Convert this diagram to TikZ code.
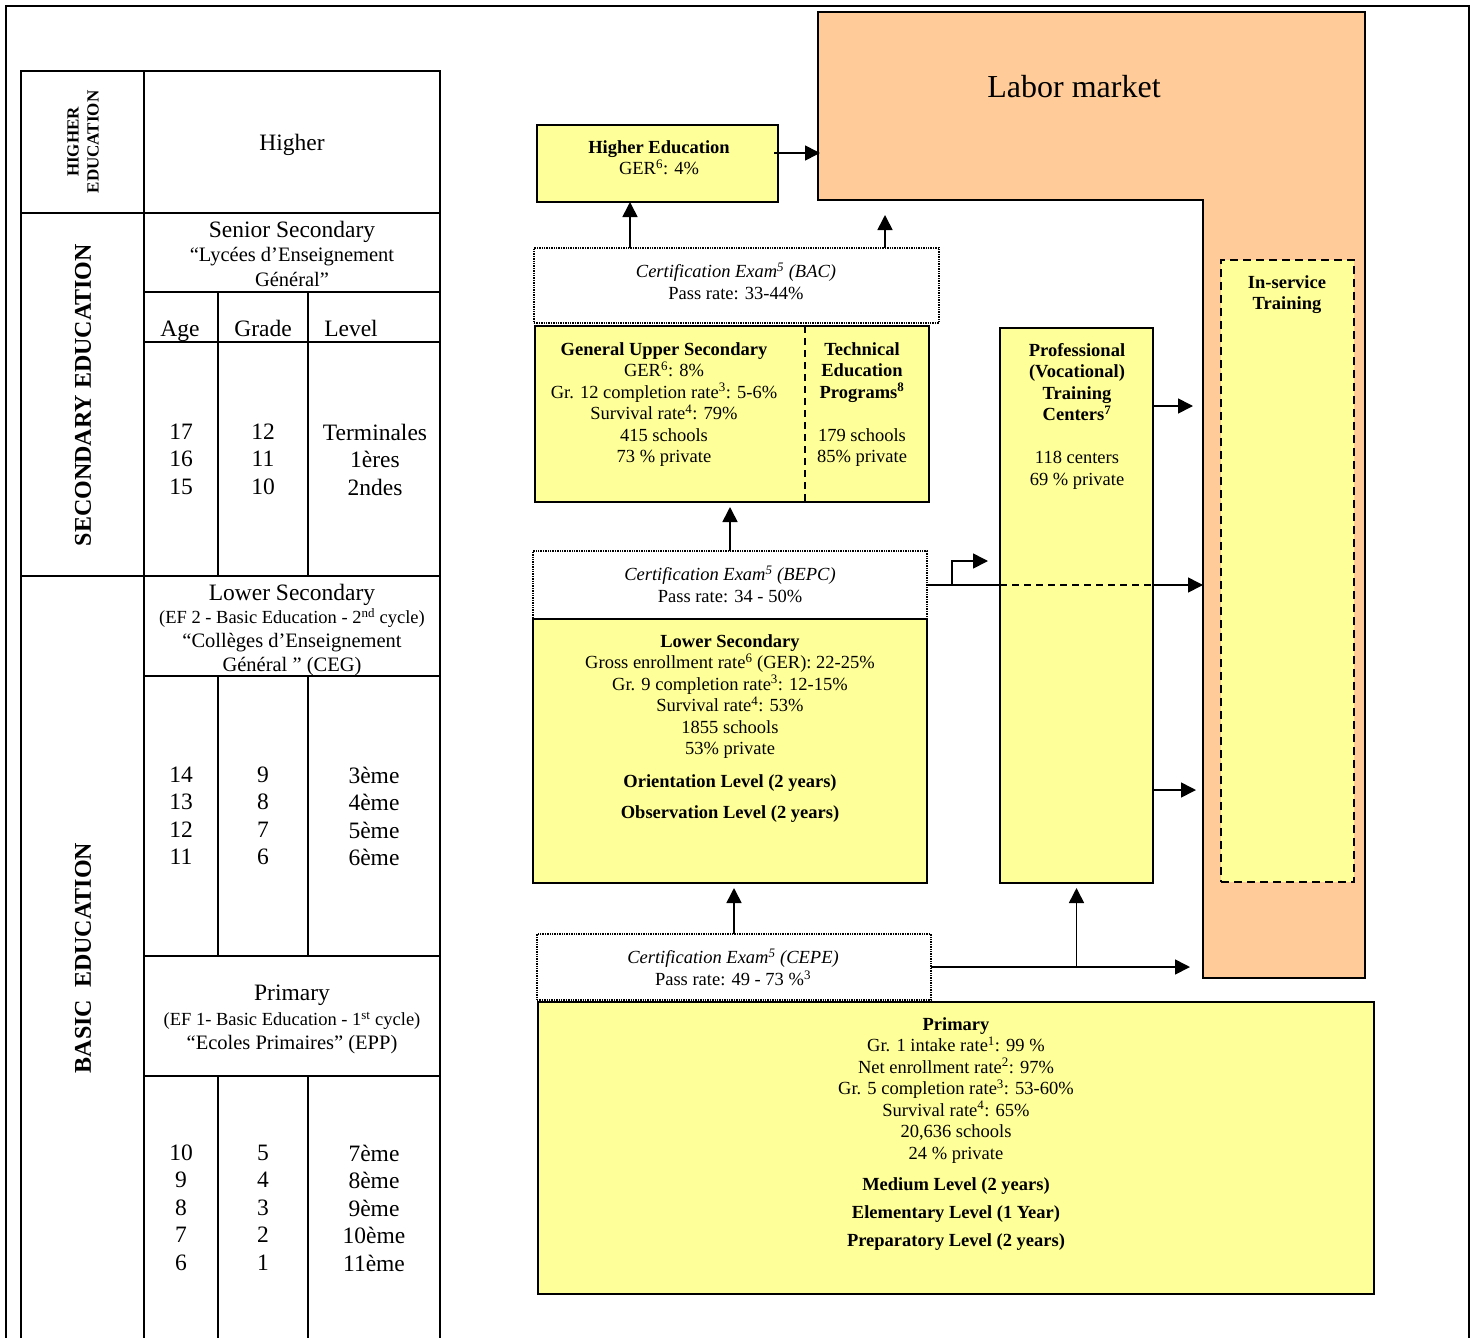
\documentclass[tikz,border=0pt]{standalone}
\usepackage{fontspec}
\setmainfont{Liberation Serif}
\usetikzlibrary{arrows.meta}

\definecolor{boxyellow}{HTML}{FFFF99}
\definecolor{labpeach}{HTML}{FFCC99}
\newcommand{\bodyfont}{\fontsize{18.5}{21.5}\selectfont}
\newcommand{\gridfont}{\fontsize{23.5}{27.5}\selectfont}
\newcommand{\subfont}{\fontsize{20.5}{24.5}\selectfont}

\begin{document}
\begin{tikzpicture}[x=1pt, y=-1pt,
    ybox/.style={draw, line width=1.6pt, fill=boxyellow, anchor=north west, inner sep=0pt, outer sep=0pt},
    exambox/.style={draw, line width=1.4pt, densely dotted, fill=white, anchor=north west, inner sep=0pt, outer sep=0pt},
    txt/.style={align=center, inner sep=0pt, font=\bodyfont, anchor=north},
    grid/.style={align=center, inner sep=0pt, font=\gridfont},
    vlabel/.style={rotate=90, align=center, inner sep=0pt, font=\bfseries},
    arr/.style={line width=1.6pt, -{Triangle[length=15pt,width=15pt]}},
    tbl/.style={line width=2pt}]
  \useasboundingbox (0,0) rectangle (1475,1338);
  \clip (0,0) rectangle (1475,1338);

  % outer frame
  \draw[line width=2pt] (6,1350) -- (6,6) -- (1469,6) -- (1469,1350);

  % left table
  \draw[tbl] (21,71) rectangle (440,1350);
  \draw[tbl] (144,71) -- (144,1350);
  \draw[tbl] (21,213) -- (440,213);
  \draw[tbl] (144,292) -- (440,292);
  \draw[tbl] (144,342) -- (440,342);
  \draw[tbl] (21,576) -- (440,576);
  \draw[tbl] (144,676) -- (440,676);
  \draw[tbl] (144,956) -- (440,956);
  \draw[tbl] (144,1076) -- (440,1076);
  \foreach \x in {218,308} {
    \draw[tbl] (\x,292) -- (\x,576);
    \draw[tbl] (\x,676) -- (\x,956);
    \draw[tbl] (\x,1076) -- (\x,1350);
  }

  \node[vlabel, font=\fontsize{17}{20}\selectfont\bfseries] (hedlab) at (83,142) {HIGHER\\EDUCATION};
  \node[vlabel, font=\fontsize{24}{27}\selectfont\bfseries] (seclab) at (83,395) {SECONDARY EDUCATION};
  \node[vlabel, font=\fontsize{24}{27}\selectfont\bfseries] (baslab) at (83,958) {BASIC\ \ EDUCATION};

  \node[grid, anchor=base] (higher) at (292,150) {Higher};
  \node[grid, font=\subfont, anchor=north] (senior) at (292,220.5)
    {{\gridfont Senior Secondary}\\“Lycées d’Enseignement\\Général”};
  \node[grid, anchor=base] (agehd) at (180,336) {Age};
  \node[grid, anchor=base] (gradehd) at (263,336) {Grade};
  \node[grid, anchor=base] (levelhd) at (351,336) {Level};
  \node[grid, anchor=north] (age1) at (181,423.5) {17\\16\\15};
  \node[grid, anchor=north] (grade1) at (263,423.5) {12\\11\\10};
  \node[grid, anchor=north] (level1) at (375,423.5) {Terminales\\1ères\\2ndes};

  \node[grid, font=\fontsize{20.5}{23.7}\selectfont, anchor=north] (lower) at (292,583.5)
    {{\gridfont Lower Secondary}\\{\fontsize{18.5}{21.5}\selectfont (EF 2 - Basic Education - 2\textsuperscript{nd} cycle)}\\“Collèges d’Enseignement\\Général ” (CEG)};
  \node[grid, anchor=north] (age2) at (181,766.5) {14\\13\\12\\11};
  \node[grid, anchor=north] (grade2) at (263,766.5) {9\\8\\7\\6};
  \node[grid, anchor=north] (level2) at (374,766.5) {3ème\\4ème\\5ème\\6ème};

  \node[grid, font=\fontsize{20.5}{24}\selectfont, anchor=north] (primlab) at (292,984.5)
    {{\gridfont Primary}\\[1pt]{\fontsize{18.5}{21.5}\selectfont (EF 1- Basic Education - 1\textsuperscript{st} cycle)}\\“Ecoles Primaires” (EPP)};
  \node[grid, anchor=north] (age3) at (181,1144.5) {10\\9\\8\\7\\6};
  \node[grid, anchor=north] (grade3) at (263,1144.5) {5\\4\\3\\2\\1};
  \node[grid, anchor=north] (level3) at (374,1144.5) {7ème\\8ème\\9ème\\10ème\\11ème};

  % labor market
  \draw[line width=1.6pt, fill=labpeach] (818,12) -- (1365,12) -- (1365,978) -- (1203,978)
    -- (1203,200) -- (818,200) -- cycle;
  \node[inner sep=0pt, font=\fontsize{32}{36}\selectfont, anchor=base] (labor) at (1074,97) {Labor market};
  \node[ybox, dash pattern=on 8pt off 5pt, line width=1.8pt, minimum width=133pt, minimum height=622pt] (insv) at (1221,260) {};
  \node[txt, font=\bodyfont\bfseries] (insvtxt) at (1287,275) {In-service\\Training};

  % flow boxes
  \node[ybox, minimum width=241pt, minimum height=77pt] (hed) at (537,125) {};
  \node[txt] (hedtxt) at (659,140) {\textbf{Higher Education}\\GER\textsuperscript{6}: 4\%};

  \node[exambox, minimum width=405pt, minimum height=75pt] (bac) at (534,248) {};
  \node[txt] (bactxt) at (736,263) {\textit{Certification Exam\textsuperscript{5} (BAC)}\\Pass rate: 33-44\%};

  \node[ybox, minimum width=394pt, minimum height=176pt] (ups) at (535,326) {};
  \draw[line width=1.6pt, dash pattern=on 7pt off 5pt] ([xshift=270pt]ups.north west) -- ([xshift=270pt]ups.south west);
  \node[txt] (upstxt) at (664,342) {\textbf{General Upper Secondary}\\GER\textsuperscript{6}: 8\%\\
    Gr. 12 completion rate\textsuperscript{3}: 5-6\%\\Survival rate\textsuperscript{4}: 79\%\\415 schools\\73 \% private};
  \node[txt] (techtxt) at (862,342) {\textbf{Technical}\\\textbf{Education}\\\textbf{Programs\textsuperscript{8}}\\[21.5pt]
    179 schools\\85\% private};

  \node[exambox, minimum width=394pt, minimum height=68pt] (bepc) at (533,551) {};
  \node[txt] (bepctxt) at (730,566) {\textit{Certification Exam\textsuperscript{5} (BEPC)}\\Pass rate: 34 - 50\%};

  \node[ybox, minimum width=394pt, minimum height=264pt] (lsec) at (533,619) {};
  \node[txt] (lsectxt) at (730,634) {\textbf{Lower Secondary}\\Gross enrollment rate\textsuperscript{6} (GER): 22-25\%\\
    Gr. 9 completion rate\textsuperscript{3}: 12-15\%\\Survival rate\textsuperscript{4}: 53\%\\1855 schools\\53\% private\\[11pt]
    \textbf{Orientation Level (2 years)}\\[10pt]\textbf{Observation Level (2 years)}};

  \node[exambox, minimum width=394pt, minimum height=66pt] (cepe) at (537,934) {};
  \node[txt] (cepetxt) at (733,949) {\textit{Certification Exam\textsuperscript{5} (CEPE)}\\Pass rate: 49 - 73 \%\textsuperscript{3}};

  \node[ybox, minimum width=836pt, minimum height=292pt] (prim) at (538,1002) {};
  \node[txt] (primtxt) at (956,1017) {\textbf{Primary}\\Gr. 1 intake rate\textsuperscript{1}: 99 \%\\Net enrollment rate\textsuperscript{2}: 97\%\\
    Gr. 5 completion rate\textsuperscript{3}: 53-60\%\\Survival rate\textsuperscript{4}: 65\%\\20,636 schools\\24 \% private\\[10pt]
    \textbf{Medium Level (2 years)}\\[6.5pt]\textbf{Elementary Level (1 Year)}\\[6.5pt]\textbf{Preparatory Level (2 years)}};

  \node[ybox, minimum width=153pt, minimum height=555pt] (prof) at (1000,328) {};
  \node[txt] (proftxt) at (1077,343) {\textbf{Professional}\\\textbf{(Vocational)}\\\textbf{Training}\\\textbf{Centers\textsuperscript{7}}\\[21.5pt]
    118 centers\\69 \% private};

  % free ends of the connectors
  \coordinate (lmhed) at (820,153);
  \coordinate (lmbac) at (885,215);
  \coordinate (lmbepc) at (1203,585);
  \coordinate (prfup) at (988,561);
  \coordinate (lmcepe) at (1190,967);
  \coordinate (lmprf1) at (1193,406);
  \coordinate (lmprf2) at (1196,790);

  % connectors
  \draw[arr] ([yshift=10.5pt, xshift=-4pt]hed.east) -- (lmhed);
  \draw[arr] ([xshift=96pt]bac.north west) -- ([xshift=93pt]hed.south west);
  \draw[arr] ([xshift=351pt]bac.north west) -- (lmbac);
  \draw[arr, shorten >=5pt] (bepc.north) -- (bepc.north |- ups.south);
  \draw[line width=1.6pt] (bepc.east) -- (bepc.east -| prof.west);
  \draw[line width=1.6pt, dash pattern=on 7pt off 5pt] (prof.west |- bepc.east) -- (prof.east |- bepc.east);
  \draw[arr] (prof.east |- bepc.east) -- (lmbepc);
  \draw[arr] ([xshift=25pt]bepc.east) |- (prfup);
  \draw[arr] ([yshift=-78pt]prof.north east) -- (lmprf1);
  \draw[arr] ([yshift=-462pt]prof.north east) -- (lmprf2);
  \draw[arr, shorten >=5pt] (cepe.north) -- (cepe.north |- lsec.south);
  \draw[arr] (cepe.east) -- (lmcepe);
  \draw[arr, shorten >=5pt] (prof.south |- cepe.east) -- (prof.south);
\end{tikzpicture}
\end{document}
